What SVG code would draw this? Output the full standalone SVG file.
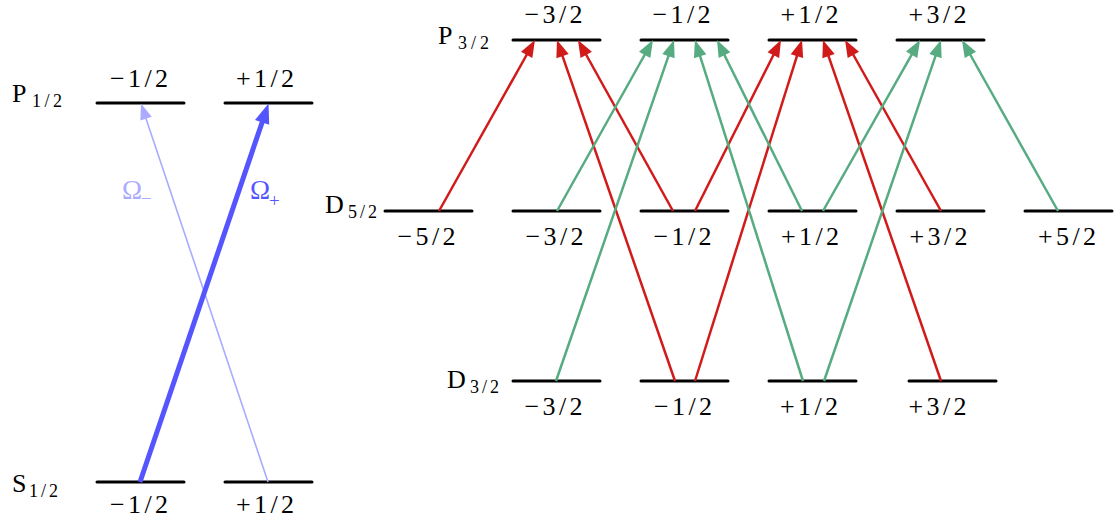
<svg xmlns="http://www.w3.org/2000/svg" width="1115" height="523" viewBox="0 0 1115 523">
<style>
.lvl{stroke:#000;stroke-width:3;stroke-linecap:round;fill:none}
.num{font-family:"Liberation Serif",serif;font-size:26px;text-anchor:middle;fill:#000}
.lab{font-family:"Liberation Serif",serif;font-size:26px;fill:#000}
.sub{font-size:18px}
.om{font-family:"Liberation Serif",serif;font-size:27px}
.red{stroke:#d11a1a;stroke-width:2.5;fill:none;marker-end:url(#ahR)}
.grn{stroke:#56ab80;stroke-width:2.5;fill:none;marker-end:url(#ahG)}
.bth{stroke:#5555ff;stroke-width:5;fill:none;marker-end:url(#ahB)}
.btn{stroke:#aaaaff;stroke-width:1.6;fill:none;marker-end:url(#ahL)}
</style>
<defs>
<marker id="ahR" markerUnits="userSpaceOnUse" viewBox="0 0 17 13" markerWidth="17" markerHeight="13" refX="5" refY="6.5" orient="auto" overflow="visible"><path d="M0,0 L17,6.5 L0,13 Z" fill="#d11a1a"/></marker>
<marker id="ahG" markerUnits="userSpaceOnUse" viewBox="0 0 17 13" markerWidth="17" markerHeight="13" refX="5" refY="6.5" orient="auto" overflow="visible"><path d="M0,0 L17,6.5 L0,13 Z" fill="#56ab80"/></marker>
<marker id="ahL" markerUnits="userSpaceOnUse" viewBox="0 0 16 12" markerWidth="16" markerHeight="12" refX="4" refY="6" orient="auto" overflow="visible"><path d="M0,0 L16,6 L0,12 Z" fill="#aaaaff"/></marker>
<marker id="ahB" markerUnits="userSpaceOnUse" viewBox="0 0 20 15" markerWidth="20" markerHeight="15" refX="5" refY="7.5" orient="auto" overflow="visible"><path d="M0,0 L20,7.5 L0,15 Z" fill="#5555ff"/></marker>
</defs>

<g id="S12">
<line class="lvl" x1="97" y1="482" x2="184" y2="482"/>
<line class="lvl" x1="225" y1="482" x2="312" y2="482"/>
<text class="lab" x="12" y="492">S<tspan class="sub" x="29" y="497" textLength="29" lengthAdjust="spacing">1/2</tspan></text>
<text class="num" x="139" y="513" textLength="58" lengthAdjust="spacing">−1/2</text>
<text class="num" x="265" y="513" textLength="58" lengthAdjust="spacing">+1/2</text>
</g>
<g id="P12">
<line class="lvl" x1="97" y1="103" x2="184" y2="103"/>
<line class="lvl" x1="225" y1="103" x2="312" y2="103"/>
<text class="lab" x="12" y="102">P<tspan class="sub" x="32" y="107" textLength="30" lengthAdjust="spacing">1/2</tspan></text>
<text class="num" x="139" y="87" textLength="58" lengthAdjust="spacing">−1/2</text>
<text class="num" x="265" y="87" textLength="58" lengthAdjust="spacing">+1/2</text>
</g>
<g id="P32">
<line class="lvl" x1="513" y1="40" x2="600" y2="40"/>
<line class="lvl" x1="641" y1="40" x2="728" y2="40"/>
<line class="lvl" x1="769" y1="40" x2="856" y2="40"/>
<line class="lvl" x1="897" y1="40" x2="984" y2="40"/>
<text class="lab" x="438" y="44">P<tspan class="sub" x="458" y="49" textLength="31" lengthAdjust="spacing">3/2</tspan></text>
<text class="num" x="553.5" y="23" textLength="58" lengthAdjust="spacing">−3/2</text>
<text class="num" x="681.5" y="23" textLength="58" lengthAdjust="spacing">−1/2</text>
<text class="num" x="809.5" y="23" textLength="58" lengthAdjust="spacing">+1/2</text>
<text class="num" x="937.5" y="23" textLength="58" lengthAdjust="spacing">+3/2</text>
</g>
<g id="D52">
<line class="lvl" x1="385" y1="211" x2="472" y2="211"/>
<line class="lvl" x1="513" y1="211" x2="600" y2="211"/>
<line class="lvl" x1="641" y1="211" x2="728" y2="211"/>
<line class="lvl" x1="769" y1="211" x2="856" y2="211"/>
<line class="lvl" x1="897" y1="211" x2="984" y2="211"/>
<line class="lvl" x1="1025" y1="211" x2="1112" y2="211"/>
<text class="lab" x="325" y="213">D<tspan class="sub" x="348" y="218" textLength="29" lengthAdjust="spacing">5/2</tspan></text>
<text class="num" x="426.5" y="245" textLength="58" lengthAdjust="spacing">−5/2</text>
<text class="num" x="554.5" y="245" textLength="58" lengthAdjust="spacing">−3/2</text>
<text class="num" x="682.5" y="245" textLength="58" lengthAdjust="spacing">−1/2</text>
<text class="num" x="810" y="245" textLength="58" lengthAdjust="spacing">+1/2</text>
<text class="num" x="938.5" y="245" textLength="58" lengthAdjust="spacing">+3/2</text>
<text class="num" x="1067" y="245" textLength="58" lengthAdjust="spacing">+5/2</text>
</g>
<g id="D32">
<line class="lvl" x1="513" y1="381" x2="600" y2="381"/>
<line class="lvl" x1="641" y1="381" x2="728" y2="381"/>
<line class="lvl" x1="769" y1="381" x2="856" y2="381"/>
<line class="lvl" x1="909" y1="381" x2="996" y2="381"/>
<text class="lab" x="447" y="388">D<tspan class="sub" x="470" y="393" textLength="29" lengthAdjust="spacing">3/2</tspan></text>
<text class="num" x="553.5" y="415" textLength="58" lengthAdjust="spacing">−3/2</text>
<text class="num" x="683" y="415" textLength="58" lengthAdjust="spacing">−1/2</text>
<text class="num" x="809" y="415" textLength="58" lengthAdjust="spacing">+1/2</text>
<text class="num" x="937.5" y="415" textLength="58" lengthAdjust="spacing">+3/2</text>
</g>

<g id="connectors">
<line class="btn" x1="268" y1="482" x2="144.8" y2="114.9"/>
<line class="bth" x1="140" y1="482" x2="263.7" y2="117.7"/>
<text class="om" x="122" y="199" fill="#aaaaff">Ω<tspan font-size="19" x="141" y="205">−</tspan></text>
<text class="om" x="250" y="199" fill="#5555ff">Ω<tspan font-size="19" x="269" y="207">+</tspan></text>

<line class="red" x1="439" y1="211" x2="529.1" y2="50.5"/>
<line class="red" x1="675" y1="381" x2="560.9" y2="51.3"/>
<line class="red" x1="673" y1="211" x2="583.8" y2="50.5"/>
<line class="red" x1="695" y1="211" x2="775.6" y2="50.7"/>
<line class="red" x1="695" y1="381" x2="798.4" y2="51.4"/>
<line class="red" x1="941" y1="211" x2="850.9" y2="50.5"/>
<line class="red" x1="941" y1="381" x2="826.9" y2="51.3"/>

<line class="grn" x1="557" y1="211" x2="647.1" y2="50.5"/>
<line class="grn" x1="556" y1="381" x2="670.1" y2="51.3"/>
<line class="grn" x1="803" y1="381" x2="698.6" y2="51.4"/>
<line class="grn" x1="802" y1="211" x2="722.3" y2="50.7"/>
<line class="grn" x1="823" y1="211" x2="914.1" y2="50.4"/>
<line class="grn" x1="824" y1="381" x2="937.1" y2="51.4"/>
<line class="grn" x1="1058" y1="211" x2="967.9" y2="50.5"/>
</g>
</svg>
